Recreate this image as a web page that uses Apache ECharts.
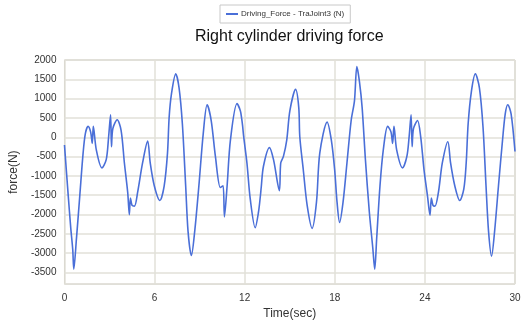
<!DOCTYPE html>
<html>
<head>
<meta charset="utf-8">
<script src="https://cdn.jsdelivr.net/npm/echarts@6/dist/echarts.min.js"></script>
<style>
  html, body { margin: 0; padding: 0; background: #fff; }
  #chart { width: 524px; height: 325px; }
</style>
</head>
<body>
<div id="chart"></div>
<script>
// time (sec) and force (N)
const timeSec = [
  0, 0.25, 0.42, 0.55, 0.62, 0.8, 1.02, 1.24, 1.39, 1.57, 1.74, 1.85, 1.92, 2.12, 2.49, 2.78, 2.94,
  3.07, 3.13, 3.22, 3.51, 3.77, 3.99, 4.21, 4.32, 4.39, 4.5, 4.66, 4.87, 5.2, 5.54, 5.71, 5.98,
  6.35, 6.64, 6.86, 6.97, 7.12, 7.41, 7.63, 7.85, 8.07, 8.23, 8.45, 8.67, 8.95, 9.24, 9.5, 9.77,
  10.05, 10.38, 10.56, 10.65, 10.83, 11.05, 11.49, 11.71, 11.8, 11.86, 11.93, 12.15, 12.37, 12.7,
  12.92, 13.05, 13.1, 13.25, 13.65, 13.92, 14.31, 14.4, 14.58, 14.8, 15.01, 15.39, 15.6, 15.67,
  15.9, 16.16, 16.49, 16.78, 17.0, 17.49, 17.77, 17.99, 18.15, 18.32, 18.55, 18.81, 19.09, 19.31,
  19.47, 19.64, 19.82, 20.04, 20.3, 20.53, 20.66, 20.79, 21.01, 21.23, 21.52, 21.74, 21.85, 21.94,
  22.12, 22.51, 22.8, 22.95, 23.08, 23.15, 23.24, 23.51, 23.72, 23.94, 24.17, 24.34, 24.43, 24.54,
  24.67, 24.9, 25.16, 25.53, 25.71, 25.99, 26.32, 26.59, 26.75, 26.88, 27.1, 27.36, 27.63, 27.87,
  28.07, 28.24, 28.44, 28.64, 28.9, 29.17, 29.35, 29.52, 29.74, 30
];
const forceN = [
  -200, -1510, -2357, -2906, -3414, -2611, -1510, -411, 96, 282, 140, -157, 282, -327, -792, -580, 13,
  579, -241, 223, 452, 180, -665, -1426, -2002, -1571, -1764, -1782, -1426, -665, -100, -665, -1256,
  -1637, -1256, -411, 520, 1112, 1640, 1281, 350, -1256, -2442, -3060, -2442, -1256, 96, 840, 434,
  -495, -1300, -1256, -2061, -1256, -74, 870, 688, 480, 300, 28, -665, -1596, -2340,
  -1934, -1500, -1300, -749, -267, -580, -1383, -665, -495, -74, 688, 1239, 774, 13,
  -835, -1764, -2357, -1680, -411, 393, -74, -835, -1680, -2205, -1680, -665, 434, 942,
  1830, 1449, 774, -580, -1934, -2865, -3414, -2611, -1256, -327, 282, 140, -157, 282,
  -327, -792, -495, 13, 579, -241, 223, 434, 13, -835, -1510, -2018, -1571, -1764,
  -1782, -1426, -665, -114, -665, -1256, -1637, -1342, -665, 350, 1196, 1640, 1281, 266,
  -1256, -2442, -3076, -2442, -1256, -74, 604, 840, 604, -368
];
const xTicks = { min: 0, max: 30, interval: 6 };
const yRange = { min: -3800, max: 2000 };

const chart = echarts.init(document.getElementById('chart'));
const font = 'Liberation Sans, Arial, sans-serif';
const gridColor = '#e2e0d8';

chart.setOption({
  animation: false,
  title: {
    text: 'Right cylinder driving force',
    left: 190,
    top: 24,
    textStyle: { fontFamily: font, fontSize: 16, fontWeight: 'normal', color: '#111' }
  },
  legend: {
    data: ['Driving_Force - TraJoint3 (N)'],
    left: 220,
    top: 5,
    orient: 'horizontal',
    borderColor: '#c8c8c8',
    borderWidth: 1,
    padding: [5, 6],
    itemWidth: 12,
    itemHeight: 2,
    itemGap: 2,
    icon: 'rect',
    textStyle: { fontFamily: font, fontSize: 8, color: '#333', padding: [0, 0, 0, -2] }
  },
  grid: {
    left: 61, right: 9, top: 60, bottom: 37,
    show: true, borderColor: '#c4c2ba', borderWidth: 1
  },
  xAxis: {
    type: 'value',
    min: xTicks.min, max: xTicks.max, interval: xTicks.interval,
    name: 'Time(sec)', nameLocation: 'middle', nameGap: 22,
    nameTextStyle: { fontFamily: font, fontSize: 12, color: '#333' },
    axisLine: { show: false },
    axisTick: { show: false },
    axisLabel: { fontFamily: font, fontSize: 10, color: '#333', margin: 9 },
    splitLine: { show: true, lineStyle: { color: gridColor, width: 1.5 } }
  },
  yAxis: {
    type: 'value',
    min: yRange.min, max: yRange.max, splitNumber: 11,
    name: 'force(N)', nameLocation: 'middle', nameGap: 35, nameRotate: 90,
    nameTextStyle: { fontFamily: font, fontSize: 12, color: '#333' },
    axisLine: { show: false },
    axisTick: { show: false },
    axisLabel: {
      fontFamily: font, fontSize: 10, color: '#333', margin: 8,
      showMinLabel: false,
      formatter: v => (v % 500 === 0 ? String(v) : '')
    },
    splitLine: { show: true, lineStyle: { color: gridColor, width: 1.5 } }
  },
  series: [{
    name: 'Driving_Force - TraJoint3 (N)',
    type: 'line',
    data: timeSec.map((t, i) => [t, forceN[i]]),
    smooth: 0.3,
    showSymbol: false,
    lineStyle: { color: '#4a6fd8', width: 1.6 },
    itemStyle: { color: '#4a6fd8' }
  }]
});
</script>
</body>
</html>
